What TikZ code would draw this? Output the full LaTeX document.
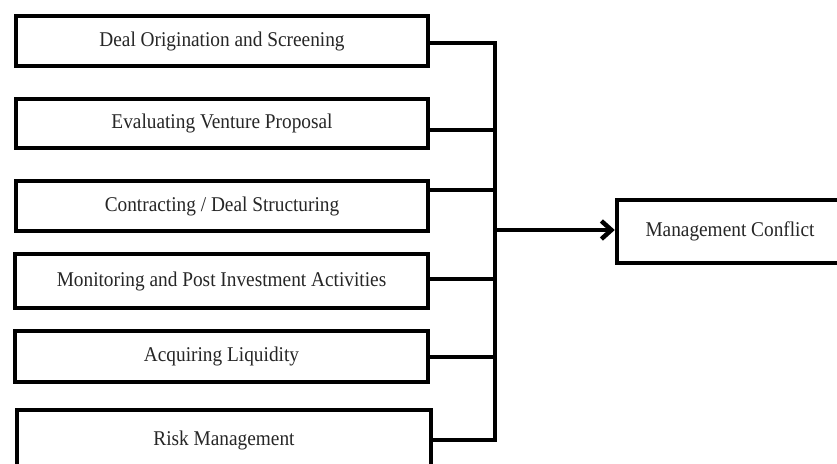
\documentclass[tikz,border=0pt]{standalone}
\usepackage{fontspec}
\setmainfont{Liberation Serif}[FakeStretch=0.92]
\usetikzlibrary{arrows.meta}
\definecolor{txt}{HTML}{262626}
\tikzset{
  box/.style={draw=black, line width=4.5pt, fill=white, text=txt, inner sep=0pt,
    font=\fontsize{21}{24}\selectfont, anchor=center},
  conn/.style={draw=black, line width=4.5pt},
}
\begin{document}
\begin{tikzpicture}[x=1pt,y=-1pt]
\useasboundingbox (0,0) rectangle (837,463);
\clip (0,0) rectangle (837,463);
% left boxes
\node[box, minimum width=412pt, minimum height=50pt] (b1) at (222,41) {Deal Origination and Screening};
\node[box, minimum width=412pt, minimum height=49pt] (b2) at (222,123.5) {Evaluating Venture Proposal};
\node[box, minimum width=412pt, minimum height=50pt] (b3) at (222,206) {Contracting / Deal Structuring};
\node[box, minimum width=413pt, minimum height=54pt] (b4) at (221.5,281) {Monitoring and Post Investment Activities};
\node[box, minimum width=413pt, minimum height=51pt] (b5) at (221.5,356.5) {Acquiring Liquidity};
\node[box, minimum width=414pt, minimum height=60pt] (b6) at (224,440) {Risk Management};
% right box
\node[box, minimum width=226pt, minimum height=63pt] (mc) at (730,231.5) {Management Conflict};
% trunk coordinates
\coordinate (t1) at (495,43);
\coordinate (t2) at (495,130);
\coordinate (t3) at (495,190);
\coordinate (t4) at (495,279);
\coordinate (t5) at (495,357);
\coordinate (t6) at (495,440);
\coordinate (ta) at (495,230);
% connectors
\draw[conn] (b1.east |- t1) -- (t1);
\draw[conn] (b2.east |- t2) -- (t2);
\draw[conn] (b3.east |- t3) -- (t3);
\draw[conn] (b4.east |- t4) -- (t4);
\draw[conn] (b5.east |- t5) -- (t5);
\draw[conn] (b6.east |- t6) -- (t6);
\draw[conn, line cap=rect] (t1) -- (t6);
\draw[conn, -{Straight Barb[length=10pt,width=18pt]}] (ta) -- (mc.west |- ta);
\end{tikzpicture}
\end{document}
